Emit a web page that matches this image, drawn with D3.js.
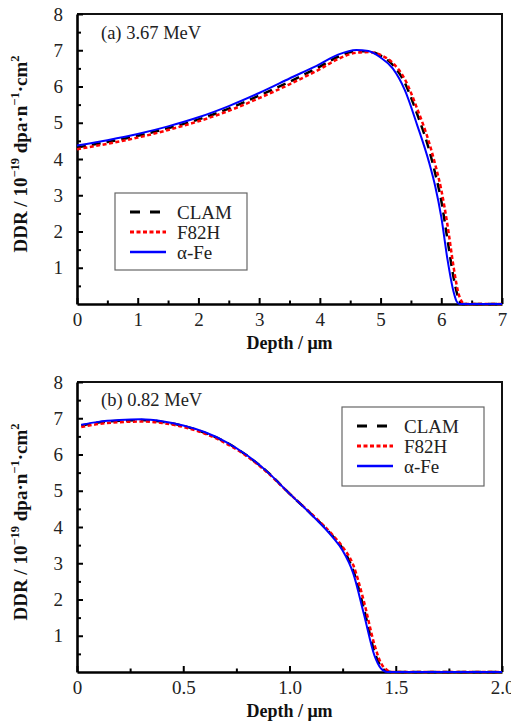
<!DOCTYPE html>
<html>
<head>
<meta charset="utf-8">
<script src="https://cdn.jsdelivr.net/npm/d3@7"></script>
<style>
  body { margin: 0; background: #fff; }
  svg text { font-family: 'Liberation Serif', Tinos, 'Times New Roman', 'DejaVu Serif', serif !important; }
</style>
</head>
<body>
<svg id="canvas"></svg>
<script>
// panel (a) 3.67 MeV
let depthA = [0, 0.5, 1, 1.5, 2, 2.5, 3, 3.5, 4, 4.3, 4.6, 4.8, 5.0, 5.2, 5.4, 5.6, 5.8, 5.9, 6.0, 6.1, 6.2, 6.25, 6.3, 6.35, 6.4, 7.0]
let clamA  = [4.32, 4.47, 4.64, 4.85, 5.09, 5.39, 5.75, 6.13, 6.55, 6.82, 6.97, 6.97, 6.85, 6.6, 6.1, 5.25, 4.25, 3.6, 2.85, 1.8, 0.75, 0.35, 0.08, 0, 0, 0]
let f82hA  = [4.27, 4.42, 4.59, 4.8, 5.04, 5.33, 5.68, 6.06, 6.48, 6.76, 6.93, 6.95, 6.87, 6.65, 6.2, 5.4, 4.45, 3.85, 3.15, 2.2, 1.05, 0.55, 0.2, 0.04, 0, 0]
let feA    = [4.37, 4.52, 4.69, 4.9, 5.15, 5.46, 5.82, 6.22, 6.62, 6.88, 7.01, 6.98, 6.8, 6.5, 5.9, 4.95, 3.9, 3.25, 2.4, 1.25, 0.35, 0.08, 0, 0, 0, 0]

// panel (b) 0.82 MeV
let depthB = [0.02, 0.1, 0.2, 0.3, 0.4, 0.5, 0.6, 0.7, 0.8, 0.9, 1.0, 1.1, 1.2, 1.25, 1.3, 1.35, 1.4, 1.43, 1.46, 1.48, 2.0]
let clamB  = [6.8, 6.88, 6.93, 6.95, 6.9, 6.79, 6.6, 6.34, 5.97, 5.5, 4.92, 4.37, 3.77, 3.4, 2.8, 1.75, 0.55, 0.15, 0.02, 0, 0]
let f82hB  = [6.76, 6.84, 6.89, 6.91, 6.87, 6.76, 6.58, 6.31, 5.95, 5.48, 4.92, 4.38, 3.8, 3.45, 2.95, 1.95, 0.75, 0.25, 0.05, 0, 0]
let feB    = [6.82, 6.9, 6.95, 6.97, 6.92, 6.8, 6.62, 6.35, 5.98, 5.5, 4.92, 4.36, 3.74, 3.35, 2.72, 1.6, 0.45, 0.1, 0, 0, 0]

let seriesNames = ['CLAM', 'F82H', 'α-Fe']
let xTicksA = [0, 1, 2, 3, 4, 5, 6, 7]
let xMinorA = [0.5, 1.5, 2.5, 3.5, 4.5, 5.5, 6.5]
let xTicksB = [0, 0.5, 1, 1.5, 2]
let xLabelsB = ['0', '0.5', '1.0', '1.5', '2.0']
let xMinorB = [0.25, 0.75, 1.25, 1.75]
let yTicks = [1, 2, 3, 4, 5, 6, 7, 8]
let yMinor = [0.5, 1.5, 2.5, 3.5, 4.5, 5.5, 6.5, 7.5]

let width = 511
let height = 725
let left = 77
let right = 502
let plotHeight = 290

let colors = ['#000000', '#ff0000', '#0000ff']
let dashes = ['9,6', '4,2.5', null]
let widths = [2.5, 2.5, 2]

let svg = d3.select('#canvas')
    .attr('width', width)
    .attr('height', height)

let drawPanel = (p) => {
    let top = p.top
    let bottom = top + plotHeight

    let xScale = d3.scaleLinear().domain(p.xDomain).range([left, right])
    let yScale = d3.scaleLinear().domain([0, 8]).range([bottom, top])

    let g = svg.append('g')

    // frame top/right
    g.append('path')
        .attr('d', 'M' + left + ',' + top + 'H' + right + 'V' + bottom)
        .attr('fill', 'none')
        .attr('stroke', '#111')
        .attr('stroke-width', 2)

    // minor ticks
    g.append('g')
        .attr('transform', 'translate(0,' + bottom + ')')
        .call(d3.axisBottom(xScale).tickValues(p.xMinor).tickSize(-3.5).tickFormat(''))
        .call(a => a.select('.domain').remove())
        .selectAll('line').attr('stroke-width', 2)
    g.append('g')
        .attr('transform', 'translate(' + left + ',0)')
        .call(d3.axisLeft(yScale).tickValues(yMinor).tickSize(-4).tickFormat(''))
        .call(a => a.select('.domain').remove())
        .selectAll('line').attr('stroke-width', 2)

    let xAxis = d3.axisBottom(xScale)
        .tickValues(p.xTicks)
        .tickSize(-6)
        .tickSizeOuter(0)
        .tickPadding(9)
        .tickFormat((d, i) => p.xLabels[i])

    let yAxis = d3.axisLeft(yScale)
        .tickValues(yTicks)
        .tickSize(-6)
        .tickSizeOuter(0)
        .tickPadding(14)
        .tickFormat(d3.format('d'))

    let gx = g.append('g')
        .attr('transform', 'translate(0,' + bottom + ')')
        .call(xAxis)
    let gy = g.append('g')
        .attr('transform', 'translate(' + left + ',0)')
        .call(yAxis)

    ;[gx, gy].forEach(a => {
        a.attr('font-family', null)
        a.select('.domain').attr('stroke-width', 2.6).attr('stroke', '#000')
        a.selectAll('.tick line').attr('stroke-width', 2)
        a.selectAll('text')
            .attr('font-size', 19)
            .attr('fill', '#222')
    })

    // curves
    let series = [p.clam, p.f82h, p.fe]
    let line = d3.line()
        .x((d, i) => xScale(p.depth[i]))
        .y(d => yScale(d))
        .curve(d3.curveMonotoneX)

    series.forEach((s, k) => {
        g.append('path')
            .datum(s)
            .attr('d', line)
            .attr('fill', 'none')
            .attr('stroke', colors[k])
            .attr('stroke-width', widths[k])
            .attr('stroke-dasharray', dashes[k])
    })

    // panel label
    g.append('text')
        .attr('x', 101)
        .attr('y', top + p.labelDy)
        .attr('font-size', 18.5)
        .attr('fill', '#222')
        .text(p.title)

    // legend
    let lg = g.append('g')
    lg.append('rect')
        .attr('x', p.legend.x)
        .attr('y', p.legend.y)
        .attr('width', p.legend.w)
        .attr('height', p.legend.h)
        .attr('fill', '#fff')
        .attr('stroke', '#666')
        .attr('stroke-width', 1.2)
    seriesNames.forEach((name, k) => {
        let ly = p.legend.y + 19 + k * 20
        lg.append('line')
            .attr('x1', p.legend.x + 15)
            .attr('x2', p.legend.x + 51)
            .attr('y1', ly)
            .attr('y2', ly)
            .attr('stroke', colors[k])
            .attr('stroke-width', widths[k] + 0.5)
            .attr('stroke-dasharray', k === 0 ? '10,10' : dashes[k])
        lg.append('text')
            .attr('x', p.legend.x + 62)
            .attr('y', ly + 6.5)
            .attr('font-size', 19)
            .attr('fill', '#222')
            .text(name)
    })

    // axis titles
    g.append('text')
        .attr('x', (left + right) / 2)
        .attr('y', bottom + 45)
        .attr('text-anchor', 'middle')
        .attr('font-weight', 'bold')
        .attr('font-size', 18)
        .attr('fill', '#111')
        .text('Depth / μm')

    let yt = g.append('text')
        .attr('transform', 'translate(27,' + ((top + bottom) / 2 - 5) + ') rotate(-90)')
        .attr('text-anchor', 'middle')
        .attr('font-weight', 'bold')
        .attr('font-size', 19)
        .attr('fill', '#111')
    yt.append('tspan').text('DDR / 10')
    yt.append('tspan').attr('dy', -8).attr('font-size', 12.5).text('−19')
    yt.append('tspan').attr('dy', 8).text(' dpa·n')
    yt.append('tspan').attr('dy', -8).attr('font-size', 12.5).text('−1')
    yt.append('tspan').attr('dy', 8).text('·cm')
    yt.append('tspan').attr('dy', -8).attr('font-size', 12.5).text('2')
}

drawPanel({
    top: 14,
    xDomain: [0, 7],
    xTicks: xTicksA,
    xLabels: xTicksA.map(String),
    xMinor: xMinorA,
    depth: depthA, clam: clamA, f82h: f82hA, fe: feA,
    title: '(a) 3.67 MeV',
    labelDy: 25,
    legend: { x: 115, y: 193, w: 132, h: 77 }
})

drawPanel({
    top: 382,
    xDomain: [0, 2],
    xTicks: xTicksB,
    xLabels: xLabelsB,
    xMinor: xMinorB,
    depth: depthB, clam: clamB, f82h: f82hB, fe: feB,
    title: '(b) 0.82 MeV',
    labelDy: 24,
    legend: { x: 342, y: 407, w: 142, h: 79 }
})
</script>
</body>
</html>
